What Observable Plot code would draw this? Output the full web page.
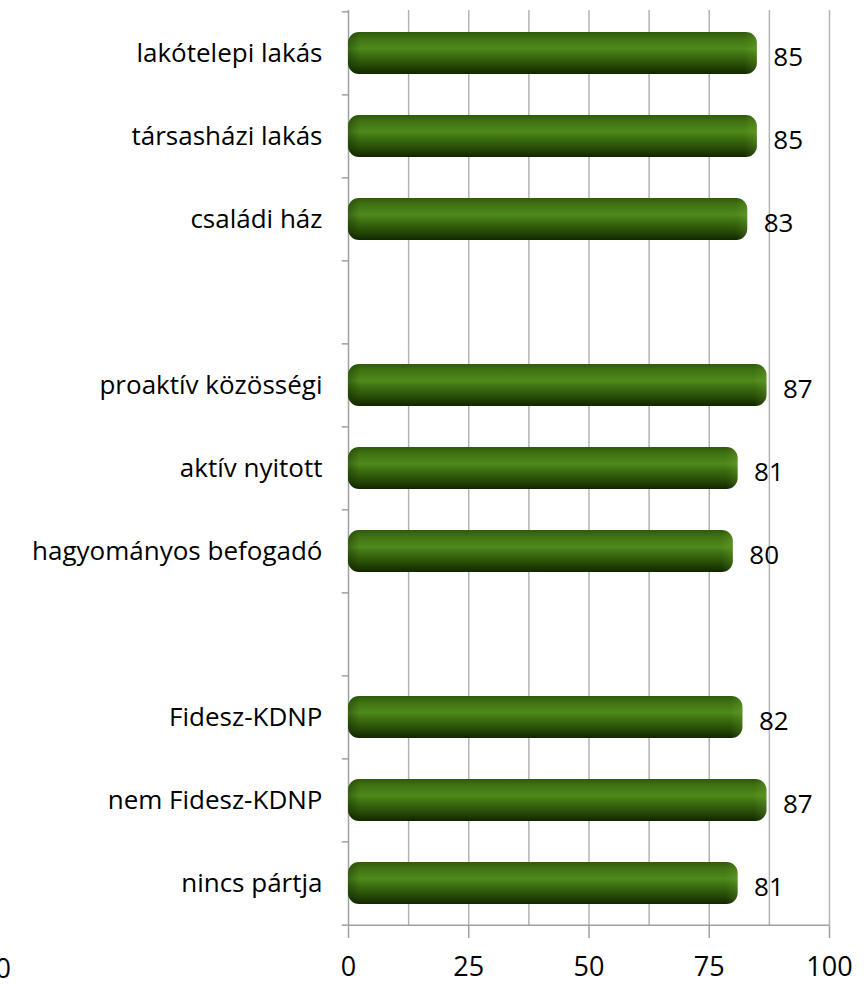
<!DOCTYPE html>
<html>
<head>
<meta charset="utf-8">
<script src="https://cdn.jsdelivr.net/npm/d3@7"></script>
<script src="https://cdn.jsdelivr.net/npm/@observablehq/plot@0.6"></script>
<style>
  html, body { margin: 0; padding: 0; background: #fff; overflow: hidden; }
  svg { display: block; }
</style>
</head>
<body>
<div id="chart"></div>
<script>
const categories = ["lakótelepi lakás", "társasházi lakás", "családi ház", "gap1",
  "proaktív közösségi", "aktív nyitott", "hagyományos befogadó", "gap2",
  "Fidesz-KDNP", "nem Fidesz-KDNP", "nincs pártja"];
const values = [85, 85, 83, null, 87, 81, 80, null, 82, 87, 81];
const xTicks = [0, 25, 50, 75, 100];
const gridTicks = [12.5, 25, 37.5, 50, 62.5, 75, 87.5, 100];
// a stray, clipped tick label at the far left of the original's axis row
const strayTicks = [{x: -75, label: "100"}];

const data = categories.map((c, i) => ({cat: c, value: values[i]})).filter(d => d.value != null);
const isGap = c => c.startsWith("gap");

const W = 868, H = 996, mT = 10, mB = 70, mL = 348, mR = 39;
const step = (H - mT - mB) / categories.length;
const lastCat = categories[categories.length - 1];

const chart = Plot.plot({
  width: W,
  height: H,
  marginTop: mT,
  marginBottom: mB,
  marginLeft: mL,
  marginRight: mR,
  style: {fontFamily: "'Open Sans', sans-serif", color: "#000", background: "#fff", overflow: "visible"},
  x: {domain: [0, 100], axis: null, label: null},
  y: {domain: categories, paddingInner: 0.5, paddingOuter: 0.25, axis: null, label: null},
  marks: [
    Plot.ruleX(gridTicks, {stroke: "#b4b4b4", strokeWidth: 1.5}),
    Plot.ruleX([0], {stroke: "#a0a0a0", strokeWidth: 1.5}),
    Plot.ruleY([lastCat], {y: d => d, dy: step / 2, x1: 0, x2: 100, stroke: "#a0a0a0", strokeWidth: 1.5}),
    Plot.ruleY(categories, {y: d => d, dy: -step / 2, x1: -1.3, x2: 0, stroke: "#a0a0a0", strokeWidth: 1.5}),
    Plot.ruleY([lastCat], {y: d => d, dy: step / 2, x1: -1.3, x2: 0, stroke: "#a0a0a0", strokeWidth: 1.5}),
    Plot.barX(data, {y: "cat", x1: 0, x2: "value", fill: "url(#barGrad)", rx: 11}),
    Plot.barX(data, {y: "cat", x1: 0, x2: "value", fill: "url(#barShine)", rx: 11}),
    Plot.text(data, {y: "cat", x: "value", text: d => String(d.value), dx: 16, dy: 4,
      textAnchor: "start", fontSize: 26, fill: "#000"}),
    Plot.axisY({tickSize: 0, tickPadding: 26, fontSize: 26, label: null, tickFormat: c => isGap(c) ? "" : c}),
    Plot.axisX(xTicks, {tickSize: 12, tickPadding: 18, fontSize: 27, label: null, stroke: "#a0a0a0", strokeWidth: 1.5, tickFormat: d => String(d)}),
    Plot.text(strayTicks, {x: "x", y: () => lastCat, dy: step / 2 + 44, text: "label", fontSize: 27, fill: "#000", clip: false})
  ]
});

chart.insertAdjacentHTML("afterbegin", `
<defs>
  <linearGradient id="barGrad" x1="0" y1="0" x2="0" y2="1">
    <stop offset="0" stop-color="#2f5a0a"/>
    <stop offset="0.15" stop-color="#3f7212"/>
    <stop offset="0.4" stop-color="#4f8a1c"/>
    <stop offset="0.55" stop-color="#3d6f10"/>
    <stop offset="0.8" stop-color="#264a06"/>
    <stop offset="1" stop-color="#112600"/>
  </linearGradient>
  <linearGradient id="barShine" x1="0" y1="0" x2="1" y2="0">
    <stop offset="0" stop-color="#0c2000" stop-opacity="0.35"/>
    <stop offset="0.03" stop-color="#0c2000" stop-opacity="0"/>
    <stop offset="0.97" stop-color="#8fc04a" stop-opacity="0"/>
    <stop offset="1" stop-color="#8fc04a" stop-opacity="0.2"/>
  </linearGradient>
</defs>`);

document.getElementById("chart").appendChild(chart);
</script>
</body>
</html>
